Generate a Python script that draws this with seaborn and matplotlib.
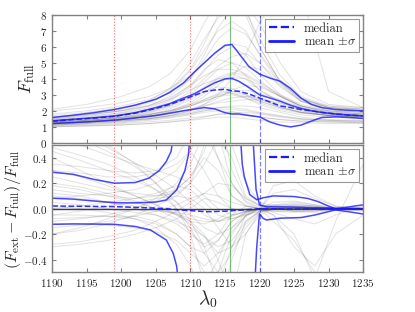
import matplotlib
matplotlib.use('Agg')
import matplotlib.pyplot as plt
from matplotlib.lines import Line2D
import pandas as pd
import seaborn as sns

sns.set_style('ticks')
plt.rcParams['font.family'] = ['cmr10', 'DejaVu Serif']
plt.rcParams['mathtext.fontset'] = 'cm'
plt.rcParams['axes.formatter.use_mathtext'] = True
plt.rcParams['axes.unicode_minus'] = True

# ---- data: blue summary curves, top panel (F_full) ----
LAM_TOP = [1190, 1193, 1196, 1199, 1202, 1205, 1207, 1209, 1210.5, 1212, 1213.5, 1215,
           1216, 1217, 1218.5, 1220, 1221.5, 1223, 1224.5, 1226, 1227.5, 1229, 1231, 1233, 1235]
TOP_UPPER = [1.58, 1.72, 1.88, 2.08, 2.35, 2.72, 3.15, 3.75, 4.4, 5.0, 5.6, 6.1,
             6.15, 5.6, 4.75, 4.3, 4.05, 3.85, 3.4, 2.8, 2.4, 2.2, 2.08, 2.03, 2.0]
TOP_MEAN = [1.37, 1.47, 1.56, 1.67, 1.88, 2.2, 2.45, 2.8, 3.05, 3.4, 3.75, 4.0,
            4.02, 3.85, 3.45, 3.0, 2.8, 2.6, 2.35, 2.15, 2.0, 1.9, 1.8, 1.73, 1.68]
TOP_MEDIAN = [1.35, 1.45, 1.54, 1.65, 1.85, 2.15, 2.4, 2.7, 2.95, 3.2, 3.3, 3.35,
              3.25, 3.22, 3.05, 2.8, 2.55, 2.3, 2.2, 2.08, 2.0, 1.9, 1.8, 1.73, 1.68]
TOP_LOWER = [1.2, 1.26, 1.33, 1.41, 1.55, 1.7, 1.85, 2.0, 2.1, 2.2, 2.12, 1.88,
             1.8, 1.8, 1.7, 1.62, 1.3, 1.1, 0.99, 1.1, 1.35, 1.58, 1.62, 1.58, 1.52]

# ---- data: blue summary curves, bottom panel (relative difference) ----
LAM_UP_B = [1190, 1193, 1196, 1199, 1202, 1204, 1205.5, 1206.5, 1207.2, 1207.6, 1217.2,
            1217.5, 1217.8, 1218.6, 1219.6, 1220.5, 1222, 1225, 1227, 1228.5, 1230, 1231, 1232.5, 1235]
BOT_UPPER = [0.286, 0.27, 0.23, 0.2, 0.205, 0.24, 0.3, 0.37, 0.45, 0.6, 0.6,
             0.35, 0.25, 0.11, 0.07, 0.085, 0.1, 0.095, 0.08, 0.055, 0.02, 0.0, 0.01, 0.03]
LAM_MEAN_B = [1190, 1193, 1196, 1199, 1202, 1205, 1206.5, 1208, 1209.2, 1209.7, 1210, 1219.0,
              1219.5, 1220, 1221, 1225, 1230, 1235]
BOT_MEAN = [0.082, 0.075, 0.06, 0.047, 0.045, 0.052, 0.068, 0.147, 0.3, 0.42, 0.6, 0.6,
            0.15, 0.03, 0.015, 0.012, 0.005, -0.005]
LAM_LOW_B = [1190, 1193, 1196, 1199, 1202, 1204.2, 1206.5, 1207.5, 1208, 1208.3, 1219.3,
             1219.6, 1220, 1220.5, 1221, 1223, 1226, 1228, 1231, 1233, 1235]
BOT_LOWER = [-0.123, -0.12, -0.121, -0.123, -0.14, -0.167, -0.246, -0.35, -0.45, -0.6, -0.6,
             -0.3, -0.04, -0.075, -0.089, -0.075, -0.07, -0.05, -0.01, -0.025, -0.042]
LAM_MED_B = [1190, 1195, 1199, 1203, 1206.5, 1208, 1210, 1212.4, 1215, 1217, 1219, 1220,
             1225, 1230, 1235]
BOT_MEDIAN = [0.021, 0.018, 0.016, 0.008, 0.0, -0.008, -0.016, -0.024, -0.02, -0.012,
              -0.005, 0.0, -0.003, -0.002, -0.003]

# ---- data: individual quasar curves (gray) ----
GRID_TOP = [1190, 1195, 1200, 1204, 1207, 1210, 1212, 1214, 1216, 1218, 1220, 1223, 1226, 1230, 1235]
GRAY_TOP = [
    [1.0, 1.05, 1.1, 1.2, 1.3, 1.4, 1.5, 1.6, 1.6, 1.5, 1.4, 1.3, 1.25, 1.2, 1.2],
    [1.1, 1.15, 1.25, 1.4, 1.55, 1.75, 1.9, 2.0, 1.95, 1.8, 1.6, 1.45, 1.35, 1.3, 1.25],
    [1.2, 1.3, 1.45, 1.65, 1.9, 2.3, 2.6, 2.9, 3.0, 2.8, 2.4, 2.0, 1.75, 1.6, 1.5],
    [1.3, 1.4, 1.6, 1.85, 2.2, 2.8, 3.4, 4.0, 4.3, 4.0, 3.3, 2.6, 2.1, 1.8, 1.7],
    [1.4, 1.55, 1.8, 2.1, 2.6, 3.5, 4.5, 5.5, 6.0, 5.5, 4.3, 3.0, 2.3, 1.9, 1.8],
    [1.5, 1.7, 2.0, 2.5, 3.2, 4.5, 5.8, 7.0, 7.6, 7.0, 5.5, 3.7, 2.6, 2.1, 1.9],
    [1.2, 1.3, 1.45, 1.6, 1.8, 2.1, 2.4, 2.8, 3.3, 3.6, 3.5, 2.9, 2.3, 1.9, 1.7],
    [1.35, 1.45, 1.6, 1.8, 2.0, 2.4, 2.7, 3.0, 3.1, 2.9, 2.6, 2.2, 1.9, 1.7, 1.6],
    [1.15, 1.25, 1.4, 1.55, 1.7, 1.9, 2.1, 2.2, 2.2, 2.1, 1.9, 1.7, 1.5, 1.4, 1.35],
    [2.0, 2.2, 2.5, 2.9, 3.4, 4.2, 5.0, 5.8, 6.2, 6.0, 5.0, 3.5, 2.6, 2.2, 2.1],
    [1.6, 1.8, 2.1, 2.6, 3.4, 5.0, 6.5, 7.8, 8.5, 8.2, 6.5, 4.2, 2.9, 2.3, 2.1],
    [1.25, 1.35, 1.5, 1.7, 1.95, 2.4, 2.9, 3.6, 4.3, 4.8, 4.6, 3.6, 2.6, 2.0, 1.8],
    [1.05, 1.1, 1.2, 1.3, 1.4, 1.55, 1.65, 1.75, 1.8, 1.75, 1.6, 1.45, 1.35, 1.3, 1.25],
    [1.3, 1.4, 1.55, 1.75, 2.0, 2.5, 3.1, 3.8, 4.1, 3.6, 2.8, 2.2, 1.9, 1.75, 1.65],
    [1.45, 1.6, 1.85, 2.2, 2.7, 3.6, 4.6, 5.2, 5.0, 4.2, 3.3, 2.5, 2.0, 1.8, 1.7],
    [1.7, 1.9, 2.2, 2.6, 3.1, 4.0, 5.5, 7.2, 8.4, 8.6, 7.5, 5.0, 3.2, 2.4, 2.2],
    [1.2, 1.3, 1.5, 1.75, 2.1, 2.7, 3.2, 3.5, 3.4, 3.0, 2.6, 2.2, 1.9, 1.7, 1.6],
    [1.3, 1.4, 1.55, 1.75, 2.0, 2.3, 2.6, 2.9, 3.2, 3.3, 3.1, 2.7, 2.2, 1.85, 1.7],
    [1.1, 1.2, 1.3, 1.45, 1.6, 1.8, 2.0, 2.2, 2.3, 2.3, 2.2, 1.9, 1.6, 1.45, 1.4],
    [1.4, 1.5, 1.7, 1.95, 2.3, 2.9, 3.5, 4.1, 4.4, 4.2, 3.7, 2.9, 2.3, 1.95, 1.8],
    [1.55, 1.75, 2.0, 2.35, 2.8, 3.6, 4.2, 4.6, 4.6, 4.3, 3.8, 3.0, 2.4, 2.0, 1.9],
    [1.25, 1.35, 1.5, 1.65, 1.85, 2.1, 2.3, 2.5, 2.6, 2.7, 2.7, 2.5, 2.1, 1.8, 1.65],
    [1.35, 1.5, 1.7, 2.0, 2.4, 3.2, 4.0, 4.8, 5.4, 5.6, 5.0, 3.8, 2.8, 2.2, 2.0],
    [1.0, 1.05, 1.12, 1.2, 1.3, 1.45, 1.6, 1.8, 1.9, 1.9, 1.8, 1.6, 1.45, 1.35, 1.3],
    [1.2, 1.3, 1.45, 1.65, 1.9, 2.3, 2.7, 3.1, 3.2, 3.0, 2.7, 2.3, 1.9, 1.7, 1.6],
    [1.5, 1.65, 1.9, 2.3, 2.9, 4.0, 5.2, 6.5, 7.2, 6.8, 5.6, 3.9, 2.8, 2.2, 2.0],
    [1.3, 1.4, 1.6, 1.9, 2.3, 3.0, 3.8, 4.6, 5.0, 4.7, 3.9, 2.9, 2.2, 1.85, 1.75],
    [1.15, 1.25, 1.35, 1.5, 1.7, 2.0, 2.3, 2.6, 2.8, 2.9, 2.8, 2.4, 2.0, 1.7, 1.55],
    [1.4, 1.55, 1.75, 2.0, 2.35, 2.9, 3.2, 3.3, 3.1, 2.8, 2.5, 2.1, 1.85, 1.7, 1.65],
    [1.8, 2.0, 2.3, 2.7, 3.3, 4.6, 6.2, 8.0, 9.0, 8.5, 6.0, 3.8, 2.7, 2.2, 2.1],
    [1.1, 1.2, 1.35, 1.5, 1.7, 2.0, 2.4, 3.0, 4.0, 5.5, 7.5, 9.5, 9.5, 3.2, 2.2],
    [1.6, 1.75, 2.0, 2.3, 2.7, 3.3, 3.7, 4.0, 4.1, 4.0, 3.6, 2.9, 2.3, 2.0, 1.9],
    [1.25, 1.3, 1.4, 1.5, 1.65, 1.85, 2.0, 2.1, 2.1, 2.0, 1.85, 1.65, 1.5, 1.4, 1.35],
    [2.1, 2.4, 2.9, 3.5, 4.3, 5.8, 7.5, 9.0, 9.0, 8.0, 6.0, 3.8, 2.7, 2.3, 2.2],
]

GRID_BOT = [1190, 1194, 1198, 1202, 1205, 1208, 1210, 1212, 1214, 1216, 1218, 1220, 1222,
            1225, 1228, 1231, 1235]
GRAY_BOT = [
    [0.45, 0.38, 0.3, 0.22, 0.15, 0.05, -0.05, -0.15, -0.2, -0.15, -0.06, 0.0, 0.02, 0.01, 0.0, 0.0, 0.0],
    [0.3, 0.25, 0.18, 0.1, 0.03, -0.05, -0.12, -0.22, -0.35, -0.3, -0.12, -0.02, 0.0, 0.01, 0.0, -0.01, 0.0],
    [-0.2, -0.17, -0.12, -0.05, 0.02, 0.1, 0.2, 0.35, 0.55, 0.4, 0.1, 0.02, 0.03, 0.03, 0.02, 0.0, -0.02],
    [0.6, 0.55, 0.45, 0.33, 0.2, 0.05, -0.1, -0.3, -0.6, -0.3, -0.05, 0.0, 0.05, 0.06, 0.03, 0.0, 0.01],
    [0.1, 0.08, 0.05, 0.02, 0.0, -0.04, -0.1, -0.2, -0.4, -0.7, -0.2, -0.03, 0.0, 0.0, 0.0, 0.0, 0.0],
    [-0.1, -0.08, -0.05, 0.0, 0.06, 0.15, 0.25, 0.45, 0.8, 0.3, 0.08, 0.02, 0.0, -0.01, 0.0, 0.0, 0.0],
    [0.2, 0.17, 0.12, 0.06, 0.0, -0.08, -0.18, -0.3, -0.25, -0.1, -0.02, 0.0, 0.02, 0.02, 0.0, -0.01, 0.0],
    [-0.28, -0.26, -0.22, -0.17, -0.1, -0.02, 0.05, 0.12, 0.2, 0.18, 0.08, 0.03, 0.01, -0.02, -0.02, 0.0, 0.01],
    [0.35, 0.33, 0.3, 0.28, 0.3, 0.4, 0.6, 0.9, 0.6, 0.2, 0.05, 0.0, -0.02, -0.02, -0.01, 0.0, 0.0],
    [0.05, 0.03, 0.0, -0.03, -0.05, -0.1, -0.15, -0.22, -0.3, -0.25, -0.1, -0.02, 0.0, 0.03, 0.02, 0.0, -0.01],
    [-0.05, -0.05, -0.06, -0.08, -0.12, -0.2, -0.3, -0.5, -0.8, -0.4, -0.1, -0.02, 0.02, 0.04, 0.02, 0.0, 0.0],
    [0.15, 0.12, 0.1, 0.08, 0.1, 0.15, 0.25, 0.4, 0.3, 0.1, 0.02, 0.0, 0.0, -0.02, -0.03, -0.01, 0.0],
    [0.55, 0.5, 0.42, 0.35, 0.3, 0.25, 0.2, 0.1, 0.0, -0.05, -0.03, 0.0, 0.12, 0.15, 0.08, 0.02, 0.0],
    [-0.15, -0.13, -0.1, -0.06, -0.02, 0.03, 0.08, 0.12, 0.1, 0.05, 0.02, 0.0, -0.1, -0.25, -0.5, -0.7, -0.6],
    [0.0, 0.0, 0.0, -0.01, -0.02, -0.03, -0.05, -0.08, -0.1, -0.06, -0.02, 0.0, -0.05, -0.2, -0.55, -0.1, 0.35],
    [0.25, 0.2, 0.15, 0.12, 0.1, 0.12, 0.2, 0.5, 0.9, 0.5, 0.2, 0.05, 0.02, 0.02, 0.01, 0.0, 0.0],
    [-0.3, -0.28, -0.25, -0.2, -0.15, -0.08, 0.0, 0.08, 0.05, 0.0, -0.02, 0.0, 0.0, 0.0, 0.0, 0.0, 0.0],
    [0.48, 0.42, 0.35, 0.25, 0.15, 0.0, -0.15, -0.35, -0.5, -0.35, -0.15, -0.03, 0.0, 0.0, 0.0, 0.0, 0.0],
    [0.08, 0.1, 0.12, 0.15, 0.2, 0.3, 0.45, 0.7, 0.4, 0.1, 0.03, 0.0, -0.02, -0.03, -0.02, 0.0, 0.0],
    [-0.12, -0.12, -0.13, -0.15, -0.18, -0.25, -0.35, -0.45, -0.35, -0.18, -0.06, -0.01, 0.0, 0.02, 0.01, 0.0, 0.0],
    [0.7, 0.6, 0.48, 0.36, 0.26, 0.15, 0.05, -0.05, -0.1, -0.08, -0.04, 0.0, 0.01, 0.01, 0.0, 0.0, 0.0],
    [0.02, 0.0, -0.03, -0.08, -0.15, -0.28, -0.45, -0.7, -0.5, -0.2, -0.05, 0.0, 0.0, 0.0, 0.0, 0.0, 0.0],
    [-0.2, -0.15, -0.08, 0.0, 0.08, 0.2, 0.35, 0.6, 0.4, 0.2, 0.06, 0.01, 0.03, 0.05, 0.03, 0.01, 0.0],
    [0.4, 0.3, 0.2, 0.1, 0.03, -0.04, -0.08, -0.1, -0.1, -0.05, -0.02, 0.0, -0.03, -0.08, -0.12, -0.05, 0.02],
    [-0.05, -0.02, 0.02, 0.05, 0.08, 0.1, 0.08, 0.0, -0.15, -0.3, -0.2, -0.05, 0.0, 0.0, 0.0, 0.0, 0.0],
    [0.12, 0.1, 0.05, 0.0, -0.05, -0.12, -0.2, -0.28, -0.2, -0.05, 0.02, 0.0, 0.0, 0.0, 0.0, 0.0, 0.0],
    [0.3, 0.28, 0.25, 0.25, 0.28, 0.35, 0.45, 0.3, 0.1, 0.0, -0.02, 0.0, 0.0, 0.0, 0.0, 0.0, 0.0],
    [-0.08, -0.07, -0.06, -0.06, -0.1, -0.2, -0.3, -0.35, -0.25, -0.1, -0.03, 0.0, 0.0, 0.0, 0.0, 0.0, 0.0],
    [0.0, 0.02, 0.05, 0.08, 0.12, 0.18, 0.15, 0.05, -0.05, -0.08, -0.05, -0.02, 0.18, 0.22, 0.1, 0.02, 0.0],
    [0.18, 0.15, 0.1, 0.05, 0.0, -0.05, -0.1, -0.12, -0.08, -0.02, 0.0, 0.0, -0.05, -0.3, -0.45, -0.2, -0.05],
    [0.9, 0.7, 0.5, 0.35, 0.2, 0.0, -0.2, -0.6, -0.4, -0.15, -0.03, 0.0, 0.0, 0.0, 0.0, 0.0, 0.0],
]

RED_LINES = [1199, 1210]
GREEN_LINE = 1215.67
BLUE_LINE = 1220


def long_table(grid, curves):
    rows = []
    for i, c in enumerate(curves):
        for lam, v in zip(grid, c):
            rows.append({'curve': i, 'lam': lam, 'val': v})
    return pd.DataFrame(rows)


df_top = long_table(GRID_TOP, GRAY_TOP)
df_bot = long_table(GRID_BOT, GRAY_BOT)

fig = plt.figure(figsize=(4.15, 3.12), dpi=100)
ax1 = fig.add_axes([0.126, 0.5426, 0.749, 0.4094])
ax2 = fig.add_axes([0.126, 0.1272, 0.749, 0.4081])

BLUE = (0.1, 0.1, 1.0)

for ax, df in [(ax1, df_top), (ax2, df_bot)]:
    sns.lineplot(data=df, x='lam', y='val', units='curve', estimator=None,
                 color='black', alpha=0.11, lw=0.75, ax=ax)
    for x in RED_LINES:
        ax.axvline(x, color='red', ls=':', lw=0.8, alpha=0.6)
    ax.axvline(GREEN_LINE, color='green', lw=0.8, alpha=0.5)
    ax.axvline(BLUE_LINE, color=BLUE, ls='--', lw=0.9, alpha=0.55)

# top panel summary curves
for y in [TOP_UPPER, TOP_MEAN, TOP_LOWER]:
    sns.lineplot(x=LAM_TOP, y=y, color=BLUE, lw=1.1, alpha=0.8, ax=ax1)
sns.lineplot(x=LAM_TOP, y=TOP_MEDIAN, color=BLUE, lw=1.1, ls='--', alpha=0.9, ax=ax1)

# bottom panel
ax2.axhline(0, color='0.25', lw=1.0)
sns.lineplot(x=LAM_UP_B, y=BOT_UPPER, color=BLUE, lw=1.1, alpha=0.8, ax=ax2)
sns.lineplot(x=LAM_MEAN_B, y=BOT_MEAN, color=BLUE, lw=1.1, alpha=0.8, ax=ax2)
sns.lineplot(x=LAM_LOW_B, y=BOT_LOWER, color=BLUE, lw=1.1, alpha=0.8, ax=ax2)
sns.lineplot(x=LAM_MED_B, y=BOT_MEDIAN, color=BLUE, lw=1.1, ls='--', alpha=0.9, ax=ax2)

handles = [Line2D([], [], color=BLUE, ls='--', lw=1.6),
           Line2D([], [], color=BLUE, lw=2.0)]
labels = ['median', r'mean $\pm\sigma$']

for ax in [ax1, ax2]:
    ax.set_xlim(1190, 1235)
    ax.set_xticks(range(1190, 1236, 5))
    ax.tick_params(direction='in', top=True, right=True, labelsize=8,
                   color='0.5', length=3, width=0.8)
    for s in ax.spines.values():
        s.set_color('0.5')
        s.set_linewidth(1.0)
    leg = ax.legend(handles, labels, loc='upper right', fontsize=9, frameon=True,
                    fancybox=False, handlelength=2.0, borderpad=0.3,
                    labelspacing=0.1, borderaxespad=0.3)
    leg.get_frame().set_edgecolor('0.5')
    leg.get_frame().set_linewidth(0.8)

ax1.set_ylim(0, 8)
ax1.set_yticks(range(0, 9))
ax1.tick_params(labelbottom=False)
ax1.set_xlabel('')
ax1.set_ylabel(r'$F_{\rm full}$', fontsize=13, labelpad=2)

ax2.set_ylim(-0.5, 0.5)
ax2.set_yticks([-0.4, -0.2, 0.0, 0.2, 0.4])
ax2.set_xlabel(r'$\lambda_0$', fontsize=14, labelpad=0)
ax2.set_ylabel(r'$(F_{\rm ext}-F_{\rm full})/F_{\rm full}$', fontsize=11.5, labelpad=0)

fig.savefig('out.png', dpi=100)
